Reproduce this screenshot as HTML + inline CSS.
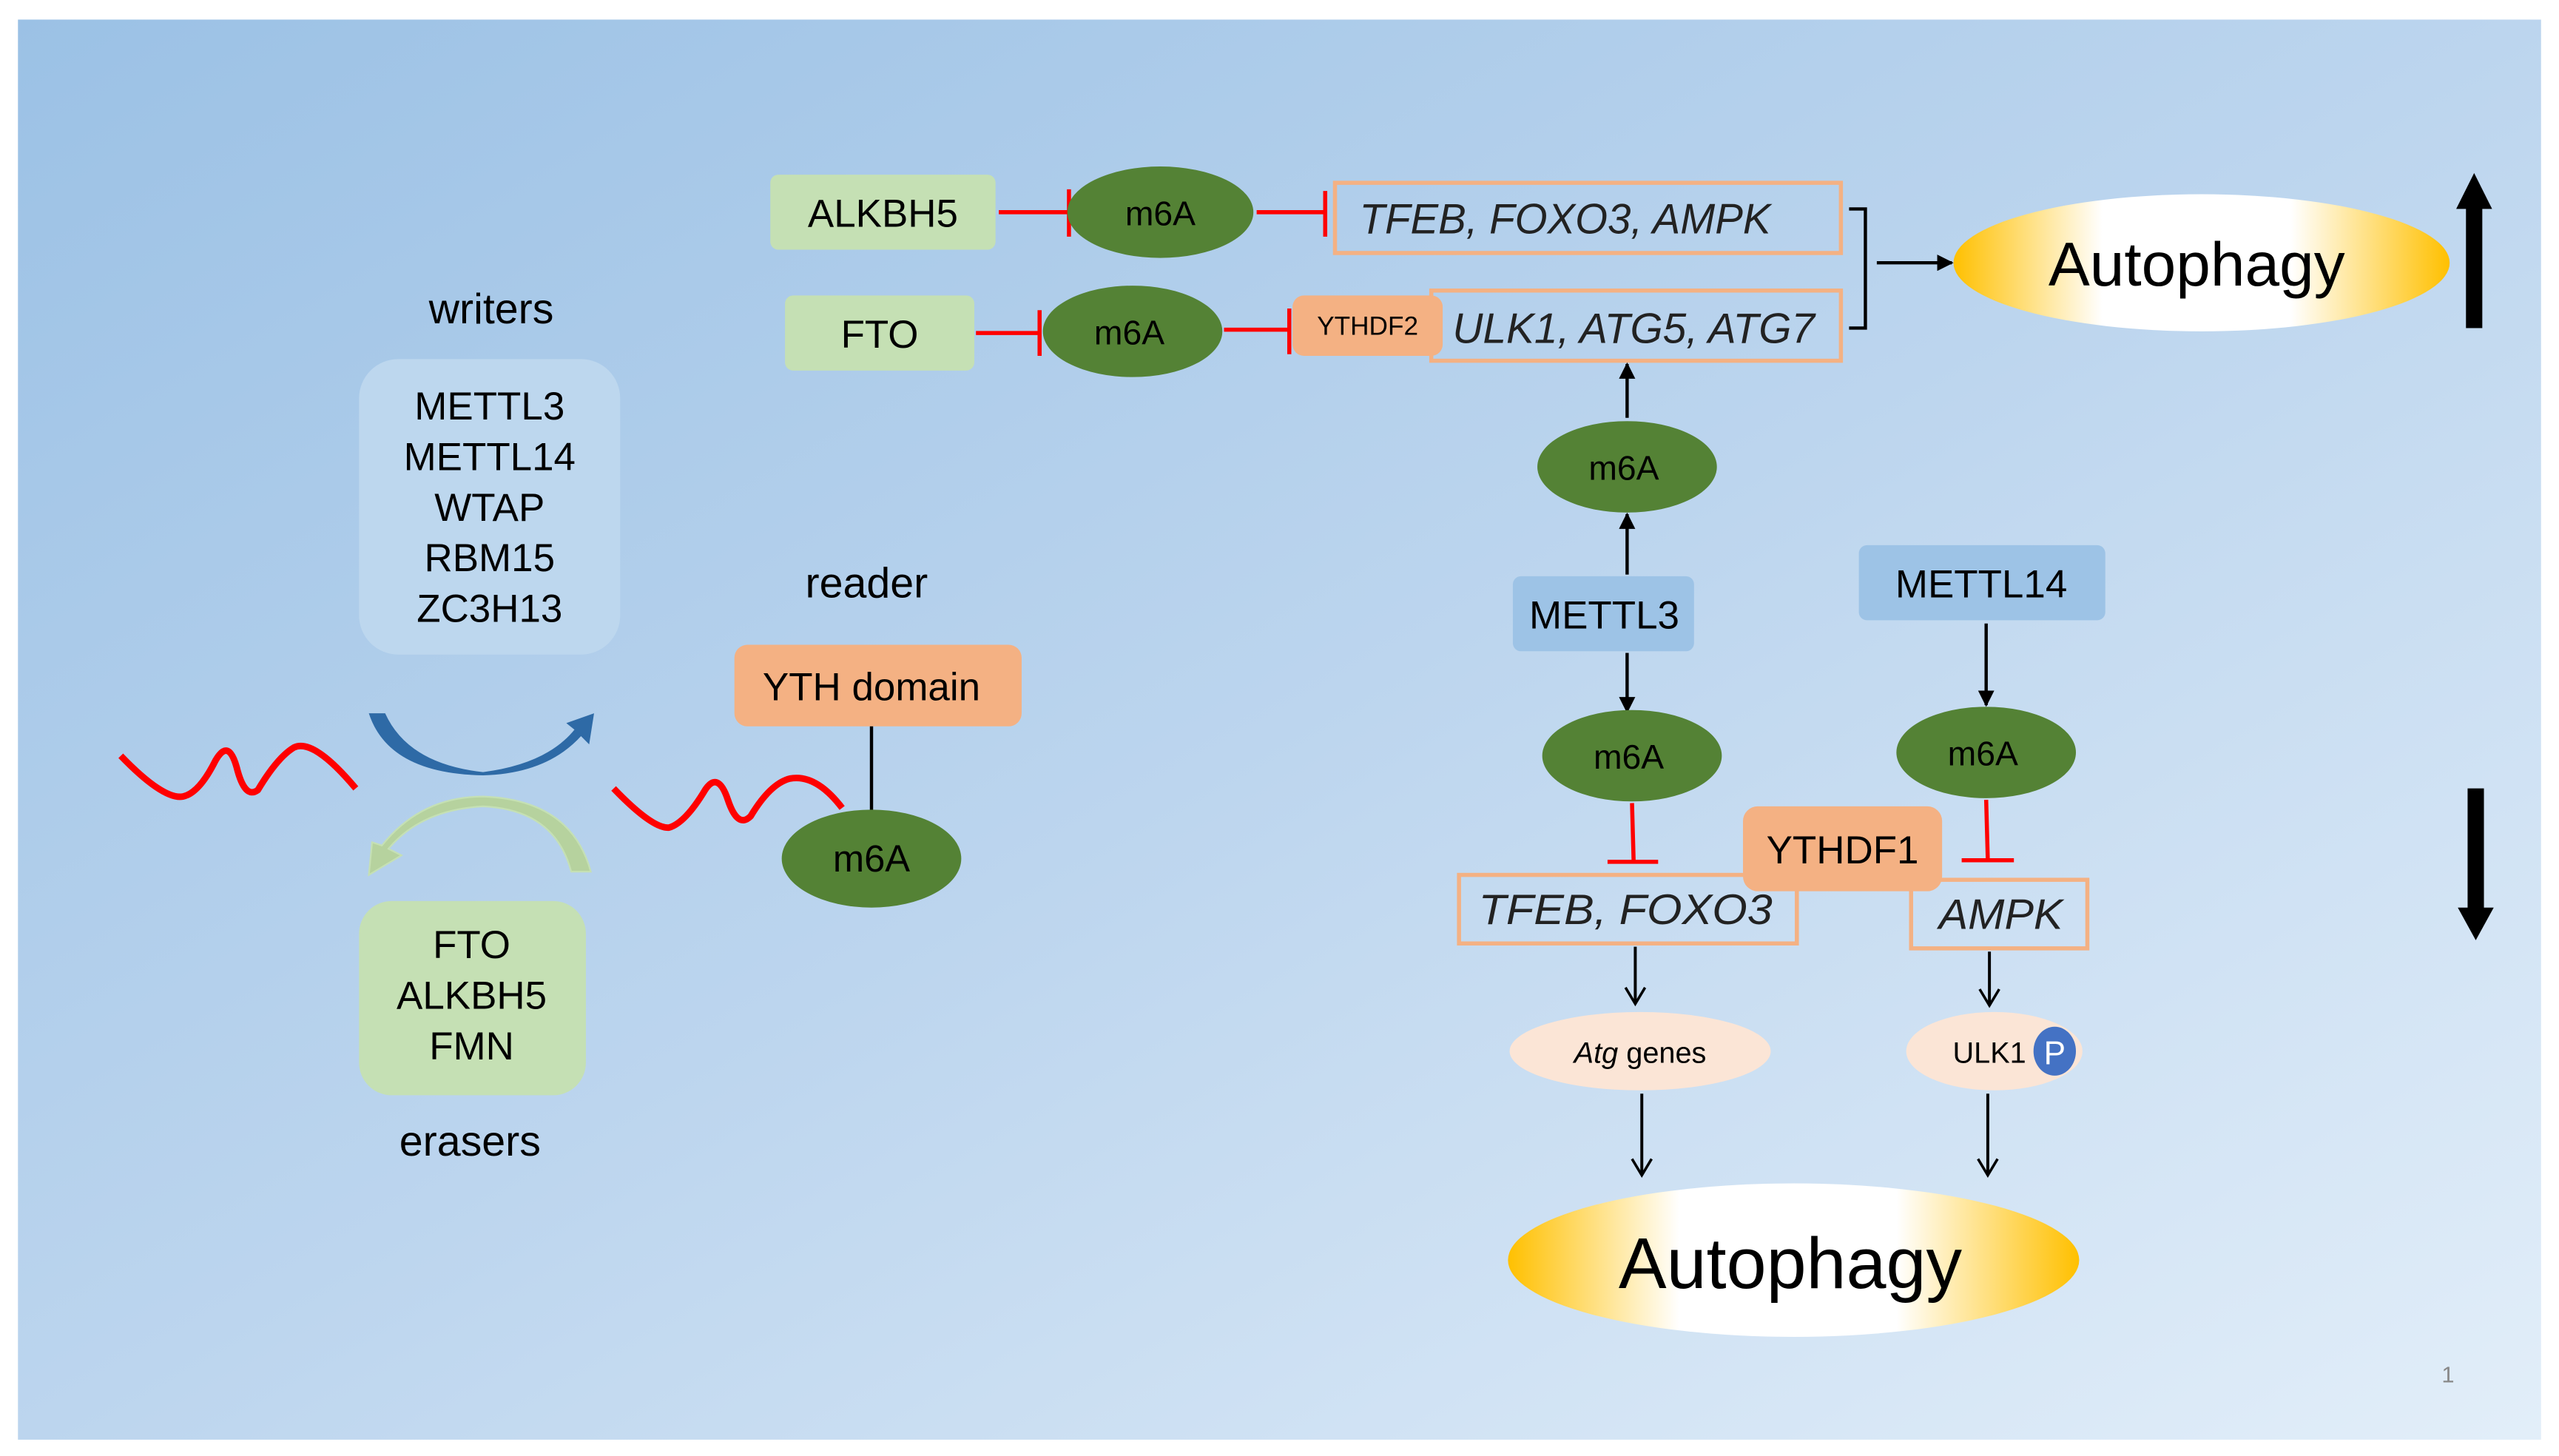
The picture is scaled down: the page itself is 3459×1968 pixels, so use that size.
<!DOCTYPE html>
<html><head><meta charset="utf-8"><style>
html,body{margin:0;padding:0;background:#fff;}
svg{display:block;}
text{font-family:"Liberation Sans",sans-serif;}
</style></head><body>
<svg width="3459" height="1968" viewBox="0 0 1568 892" preserveAspectRatio="none" xmlns="http://www.w3.org/2000/svg">
<defs>
<linearGradient id="bg" x1="0" y1="0" x2="1" y2="1">
<stop offset="0" stop-color="#9bc1e5"/><stop offset="0.5" stop-color="#bcd5ee"/><stop offset="1" stop-color="#e2eef9"/>
</linearGradient>
<linearGradient id="au" x1="0" y1="0" x2="1" y2="0">
<stop offset="0" stop-color="#ffc000"/><stop offset="0.3" stop-color="#ffffff"/><stop offset="0.68" stop-color="#ffffff"/><stop offset="1" stop-color="#ffc000"/>
</linearGradient>
<marker id="ah" markerWidth="10" markerHeight="10" refX="9" refY="5" orient="auto" markerUnits="userSpaceOnUse"><path d="M0,0 L10,5 L0,10 z" fill="#000"/></marker>
<marker id="oh" markerWidth="14" markerHeight="14" refX="12" refY="7" orient="auto" markerUnits="userSpaceOnUse"><path d="M2,1 L12,7 L2,13" fill="none" stroke="#000" stroke-width="1.6"/></marker>
</defs>
<rect x="11" y="12" width="1546" height="870" fill="url(#bg)"/>

<text x="301" y="198" font-size="26" text-anchor="middle">writers</text>
<rect x="220" y="220" width="160" height="181" rx="24" fill="#bdd7ee"/>
<g font-size="24" text-anchor="middle">
<text x="300" y="257">METTL3</text><text x="300" y="288">METTL14</text><text x="300" y="319">WTAP</text><text x="300" y="350">RBM15</text><text x="300" y="381">ZC3H13</text>
</g>
<path d="M226,437 L236,437 Q250,468 296,473 Q335,468 352,447 L347,443 L364,437 L361,456 L356,451 Q335,474 296,475 Q238,474 226,437 z" fill="#2e6aa6"/>
<path d="M362,534 L350,534 Q340,496 296,494 Q258,496 238,520 L246,524 L226,536 L228,516 L234,518 Q258,488 296,488 Q350,490 362,534 z" fill="#b6d29e" stroke="#c5e0b4" stroke-width="1"/>
<path d="M74,463 Q100,490 112,488 Q122,486 132,466 Q140,452 145,470 Q150,490 158,484 Q170,464 180,458 Q192,452 218,483" fill="none" stroke="#ff0000" stroke-width="4"/>
<path d="M376,483 Q400,508 410,507 Q420,504 432,484 Q440,472 446,490 Q452,508 460,500 Q472,480 484,477 Q500,474 516,495" fill="none" stroke="#ff0000" stroke-width="4"/>
<rect x="220" y="552" width="139" height="119" rx="20" fill="#c5e0b4"/>
<g font-size="24" text-anchor="middle">
<text x="289" y="587">FTO</text><text x="289" y="618">ALKBH5</text><text x="289" y="649">FMN</text>
</g>
<text x="288" y="708" font-size="26" text-anchor="middle">erasers</text>
<text x="531" y="366" font-size="26" text-anchor="middle">reader</text>
<rect x="450" y="395" width="176" height="50" rx="8" fill="#f4b183"/>
<text x="534" y="429" font-size="24" text-anchor="middle">YTH domain</text>
<line x1="534" y1="445" x2="534" y2="497" stroke="#000" stroke-width="2"/>
<ellipse cx="534" cy="526" rx="55" ry="30" fill="#548235"/>
<text x="534" y="534" font-size="23" text-anchor="middle">m6A</text>

<rect x="472" y="107" width="138" height="46" rx="5" fill="#c5e0b4"/>
<text x="541" y="139" font-size="24" text-anchor="middle">ALKBH5</text>
<line x1="612" y1="130" x2="655" y2="130" stroke="#ff0000" stroke-width="2.5"/>
<line x1="655" y1="116" x2="655" y2="145" stroke="#ff0000" stroke-width="2.5"/>
<ellipse cx="711" cy="130" rx="57" ry="28" fill="#548235"/>
<text x="711" y="138" font-size="21" text-anchor="middle">m6A</text>
<line x1="770" y1="130" x2="812" y2="130" stroke="#ff0000" stroke-width="2.5"/>
<line x1="812" y1="117" x2="812" y2="145" stroke="#ff0000" stroke-width="2.5"/>
<rect x="818" y="112" width="310" height="43" fill="none" stroke="#f4b183" stroke-width="2.5"/>
<text x="833" y="143" font-size="26" font-style="italic" fill="#222" textLength="252" lengthAdjust="spacingAndGlyphs">TFEB, FOXO3, AMPK</text>

<rect x="481" y="181" width="116" height="46" rx="5" fill="#c5e0b4"/>
<text x="539" y="213" font-size="24" text-anchor="middle">FTO</text>
<line x1="598" y1="204" x2="637" y2="204" stroke="#ff0000" stroke-width="2.5"/>
<line x1="637" y1="190" x2="637" y2="218" stroke="#ff0000" stroke-width="2.5"/>
<ellipse cx="694" cy="203" rx="55" ry="28" fill="#548235"/>
<text x="692" y="211" font-size="21" text-anchor="middle">m6A</text>
<line x1="750" y1="202" x2="790" y2="202" stroke="#ff0000" stroke-width="2.5"/>
<line x1="790" y1="189" x2="790" y2="217" stroke="#ff0000" stroke-width="2.5"/>
<rect x="877" y="178" width="251" height="43" fill="none" stroke="#f4b183" stroke-width="2.5"/>
<rect x="792" y="181" width="92" height="37" rx="7" fill="#f4b183"/>
<text x="838" y="205" font-size="16" text-anchor="middle" textLength="62" lengthAdjust="spacingAndGlyphs">YTHDF2</text>
<text x="890" y="210" font-size="26" font-style="italic" fill="#222" textLength="222" lengthAdjust="spacingAndGlyphs">ULK1, ATG5, ATG7</text>
<path d="M1133,128 L1143,128 L1143,201 L1133,201" fill="none" stroke="#000" stroke-width="2"/>
<line x1="1150" y1="161" x2="1196" y2="161" stroke="#000" stroke-width="2" marker-end="url(#ah)"/>
<ellipse cx="1349" cy="161" rx="152" ry="42" fill="url(#au)"/>
<text x="1346" y="175" font-size="38" text-anchor="middle">Autophagy</text>
<rect x="1511" y="126" width="10" height="75" fill="#000"/>
<path d="M1505,128 L1516,106 L1527,128 z" fill="#000"/>

<line x1="997" y1="256" x2="997" y2="223" stroke="#000" stroke-width="2" marker-end="url(#ah)"/>
<ellipse cx="997" cy="286" rx="55" ry="28" fill="#548235"/>
<text x="995" y="294" font-size="21" text-anchor="middle">m6A</text>
<line x1="997" y1="352" x2="997" y2="315" stroke="#000" stroke-width="2" marker-end="url(#ah)"/>
<rect x="927" y="353" width="111" height="46" rx="5" fill="#9dc3e6"/>
<text x="983" y="385" font-size="24" text-anchor="middle">METTL3</text>
<line x1="997" y1="400" x2="997" y2="436" stroke="#000" stroke-width="2" marker-end="url(#ah)"/>
<ellipse cx="1000" cy="463" rx="55" ry="28" fill="#548235"/>
<text x="998" y="471" font-size="21" text-anchor="middle">m6A</text>
<line x1="1000" y1="492" x2="1001" y2="528" stroke="#ff0000" stroke-width="2.5"/>
<line x1="985" y1="528" x2="1016" y2="528" stroke="#ff0000" stroke-width="2.5"/>
<rect x="894" y="536" width="207" height="42" fill="none" stroke="#f4b183" stroke-width="2.5"/>
<text x="906" y="566" font-size="26" font-style="italic" fill="#222" textLength="180" lengthAdjust="spacingAndGlyphs">TFEB, FOXO3</text>

<rect x="1139" y="334" width="151" height="46" rx="5" fill="#9dc3e6"/>
<text x="1214" y="366" font-size="24" text-anchor="middle">METTL14</text>
<line x1="1217" y1="382" x2="1217" y2="432" stroke="#000" stroke-width="2" marker-end="url(#ah)"/>
<ellipse cx="1217" cy="461" rx="55" ry="28" fill="#548235"/>
<text x="1215" y="469" font-size="21" text-anchor="middle">m6A</text>
<line x1="1217" y1="490" x2="1218" y2="527" stroke="#ff0000" stroke-width="2.5"/>
<line x1="1202" y1="527" x2="1234" y2="527" stroke="#ff0000" stroke-width="2.5"/>
<rect x="1171" y="539" width="108" height="42" fill="none" stroke="#f4b183" stroke-width="2.5"/>
<text x="1188" y="569" font-size="26" font-style="italic" fill="#222" textLength="76" lengthAdjust="spacingAndGlyphs">AMPK</text>
<rect x="1068" y="494" width="122" height="52" rx="9" fill="#f4b183"/>
<text x="1129" y="529" font-size="24" text-anchor="middle">YTHDF1</text>

<line x1="1002" y1="580" x2="1002" y2="615" stroke="#000" stroke-width="1.8" marker-end="url(#oh)"/>
<line x1="1219" y1="583" x2="1219" y2="616" stroke="#000" stroke-width="1.8" marker-end="url(#oh)"/>
<ellipse cx="1005" cy="644" rx="80" ry="24" fill="#fbe5d6"/>
<text x="1005" y="651" font-size="18" text-anchor="middle"><tspan font-style="italic">Atg</tspan> genes</text>
<ellipse cx="1222" cy="644" rx="54" ry="24" fill="#fbe5d6"/>
<text x="1219" y="651" font-size="18" text-anchor="middle">ULK1</text>
<ellipse cx="1259" cy="644" rx="13" ry="15" fill="#4472c4"/>
<text x="1259" y="652" font-size="20" fill="#fff" text-anchor="middle">P</text>
<line x1="1006" y1="670" x2="1006" y2="720" stroke="#000" stroke-width="1.8" marker-end="url(#oh)"/>
<line x1="1218" y1="670" x2="1218" y2="720" stroke="#000" stroke-width="1.8" marker-end="url(#oh)"/>
<ellipse cx="1099" cy="772" rx="175" ry="47" fill="url(#au)"/>
<text x="1097" y="789" font-size="44" text-anchor="middle">Autophagy</text>
<rect x="1512" y="483" width="10" height="75" fill="#000"/>
<path d="M1506,556 L1517,576 L1528,556 z" fill="#000"/>
<text x="1500" y="847" font-size="14" fill="#888" text-anchor="middle">1</text>
</svg>
</body></html>
